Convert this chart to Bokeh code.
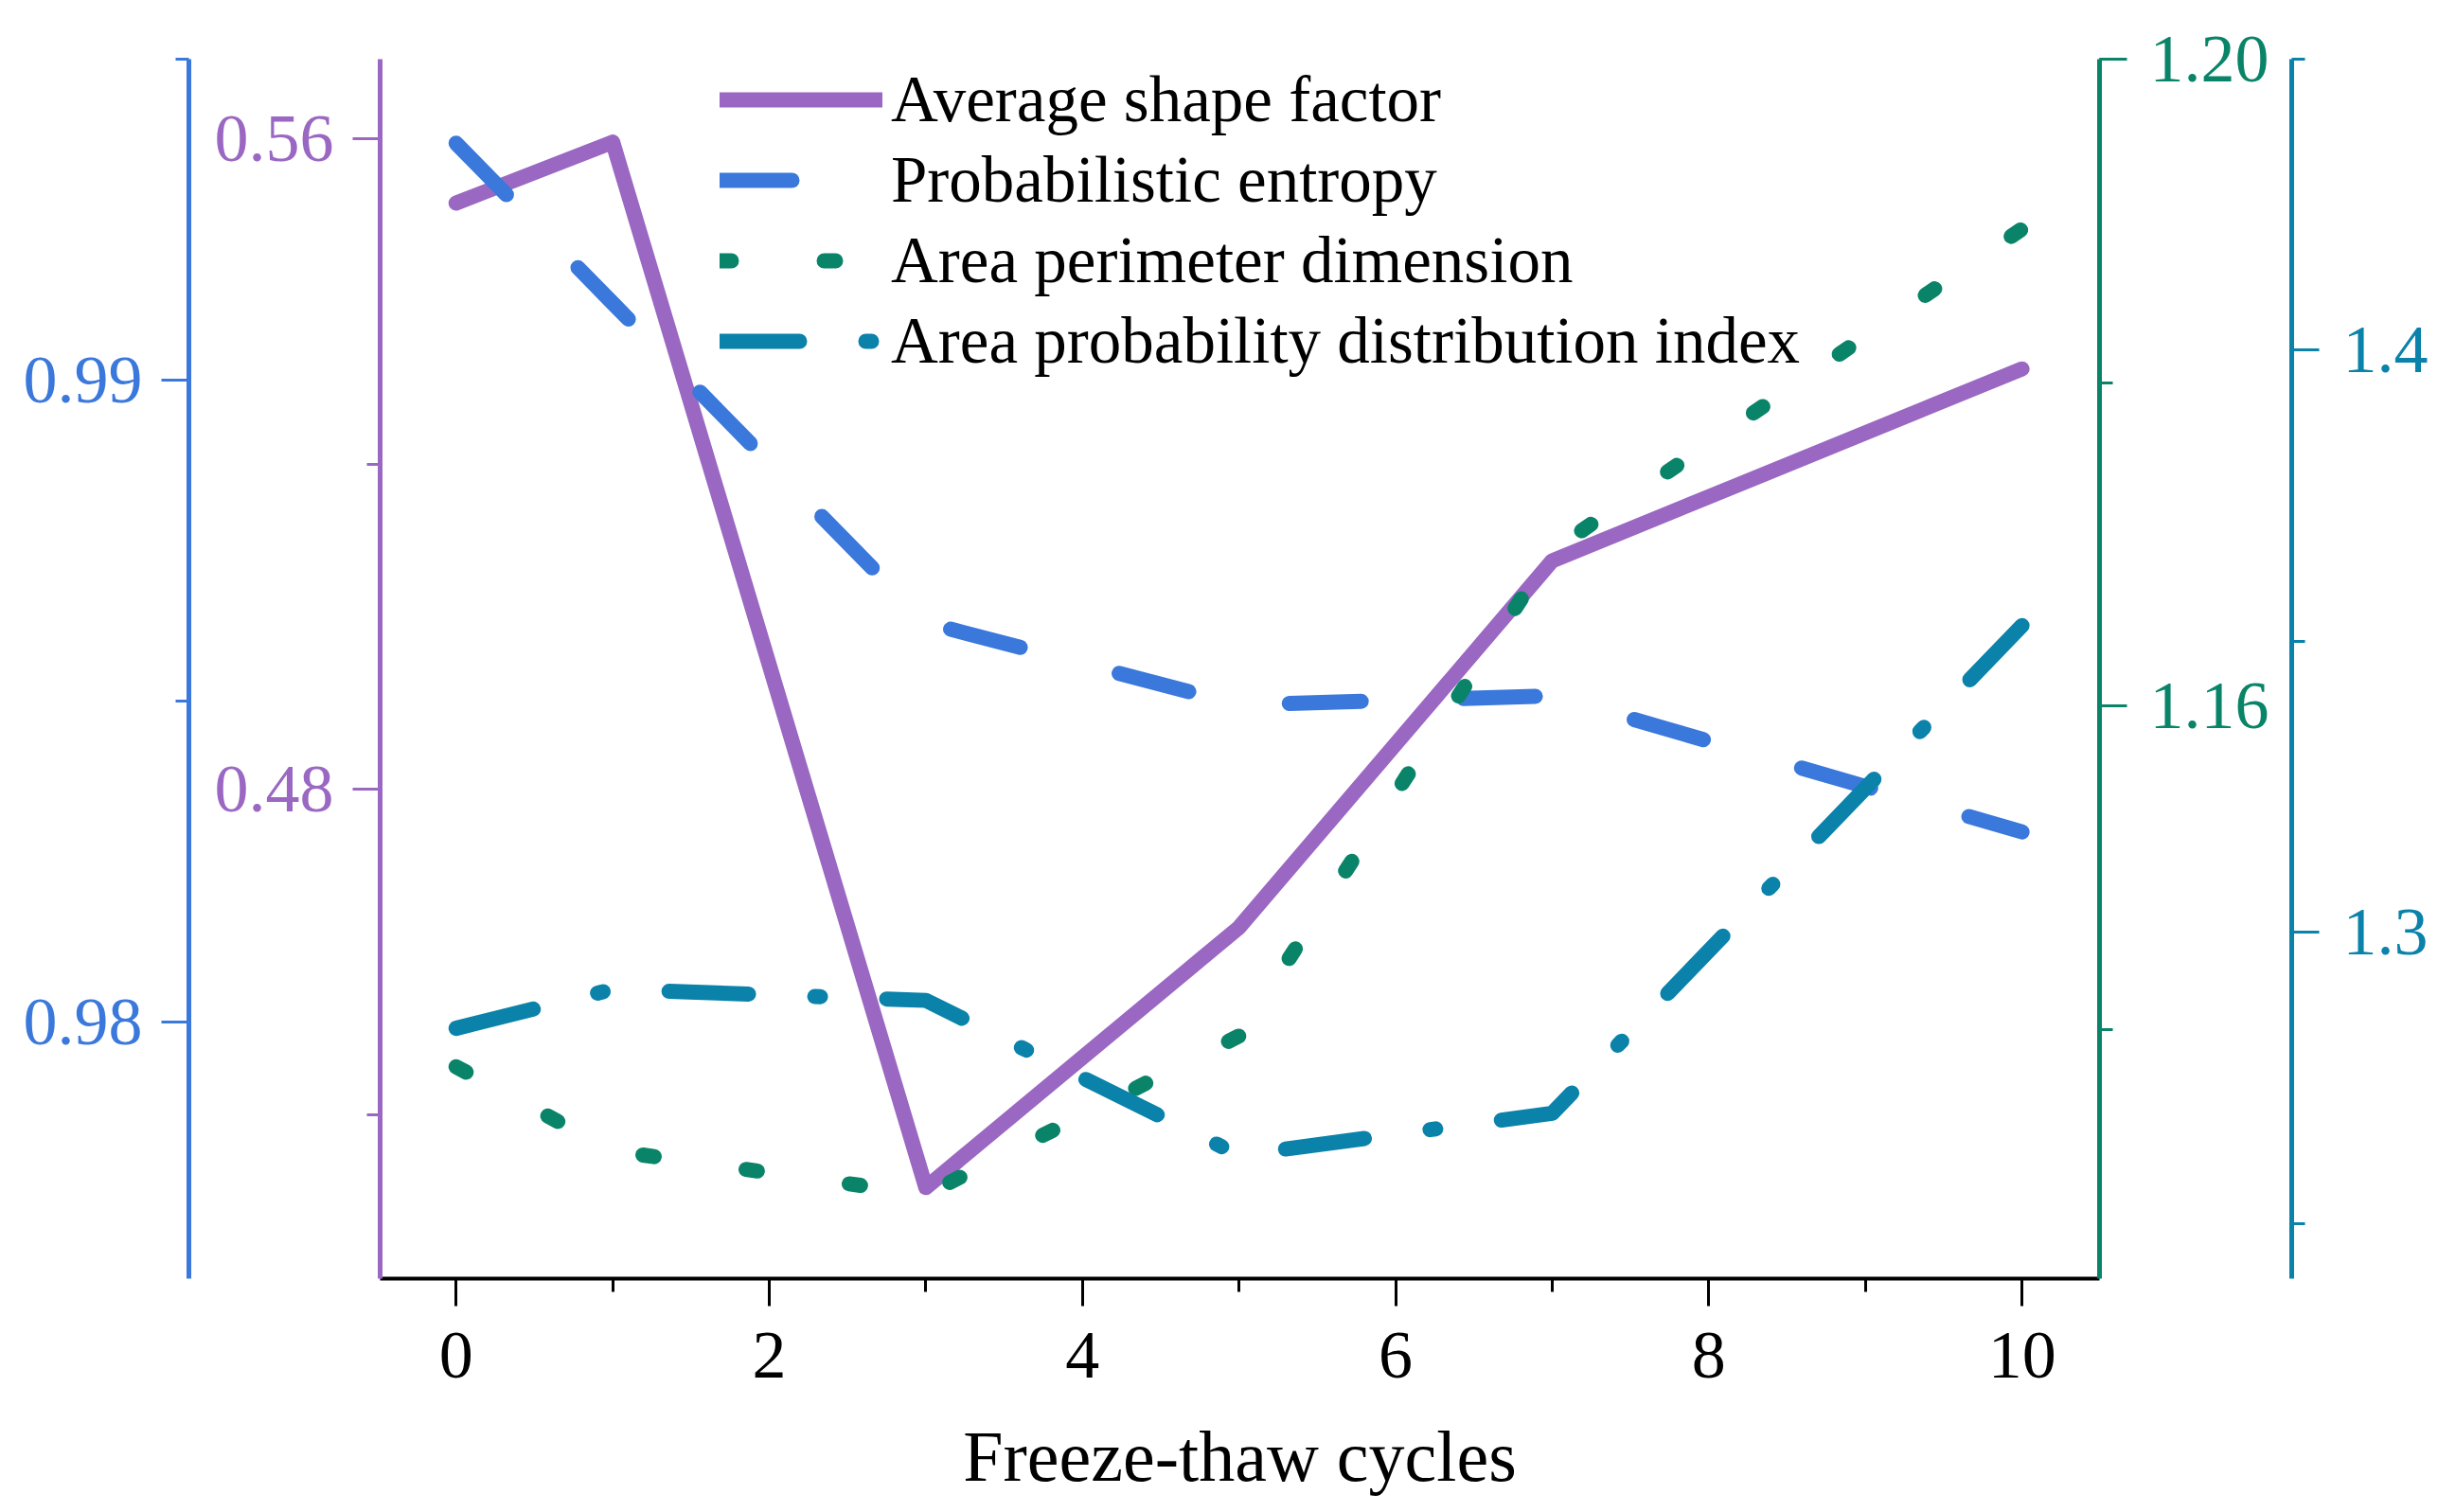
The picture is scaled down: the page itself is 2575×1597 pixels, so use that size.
from bokeh.plotting import figure
from bokeh.models import LinearAxis, Range1d, FixedTicker, PrintfTickFormatter, Legend, LegendItem
from bokeh.embed import file_html
from bokeh.resources import INLINE

# freeze-thaw cycles and the four pore indices
cycles = [0, 1, 3, 5, 7, 10]
shape_factor = [0.5521, 0.5596, 0.4310, 0.4630, 0.5081, 0.5317]
entropy = [0.99369, 0.99120, 0.98622, 0.98494, 0.98508, 0.98296]
perimeter_dim = [1.1377, 1.1325, 1.1298, 1.1396, 1.1696, 1.1895]
prob_index = [1.2835, 1.2902, 1.2883, 1.2617, 1.2689, 1.3527]

names = ["Average shape factor", "Probabilistic entropy",
         "Area perimeter dimension", "Area probability distribution index"]

x_ticks = [0, 2, 4, 6, 8, 10]
shape_ticks = [0.48, 0.56]
entropy_ticks = [0.98, 0.99]
perimeter_ticks = [1.16, 1.20]
index_ticks = [1.3, 1.4]

PURPLE = "#9a68c2"
BLUE = "#3a78dc"
GREEN = "#0a8468"
TEAL = "#0a82aa"
FONT = "Liberation Serif"

p = figure(width=2570, height=1590, output_backend="svg", toolbar_location=None,
           x_range=Range1d(-0.485, 10.495), y_range=Range1d(0.4198, 0.5698),
           min_border_left=401, min_border_right=353,
           min_border_top=62, min_border_bottom=240)
p.extra_y_ranges = {"blue": Range1d(0.976, 0.995),
                    "green": Range1d(1.1246, 1.20),
                    "teal": Range1d(1.2405, 1.45)}
p.xgrid.visible = False
p.ygrid.visible = False
p.outline_line_color = None


def style_axis(ax, color, ticks, minor, fmt, standoff):
    ax.ticker = FixedTicker(ticks=ticks, minor_ticks=minor)
    if fmt:
        ax.formatter = PrintfTickFormatter(format=fmt)
    ax.axis_line_color = color
    ax.axis_line_width = 5
    ax.major_tick_line_color = color
    ax.minor_tick_line_color = color
    ax.major_tick_line_width = 3
    ax.minor_tick_line_width = 3
    ax.major_tick_in = 0
    ax.major_tick_out = 29
    ax.minor_tick_in = 0
    ax.minor_tick_out = 14
    ax.major_label_text_color = color
    ax.major_label_text_font = FONT
    ax.major_label_text_font_size = "72px"
    ax.major_label_standoff = standoff


def spacer(gap):
    # blank axis that only pushes the outer axis further out
    return LinearAxis(ticker=FixedTicker(ticks=[0.5]), major_label_overrides={0.5: ""},
                      axis_line_color=None, major_tick_line_color=None,
                      minor_tick_line_color=None, major_tick_in=0, major_tick_out=gap,
                      minor_tick_in=0, minor_tick_out=0, major_label_standoff=0)


style_axis(p.yaxis[0], PURPLE, shape_ticks, [0.44, 0.48, 0.52, 0.56], "%.2f", 20)
p.add_layout(spacer(24), "left")
ax_blue = LinearAxis(y_range_name="blue")
style_axis(ax_blue, BLUE, entropy_ticks, [0.98, 0.985, 0.99, 0.995], "%.2f", 20)
p.add_layout(ax_blue, "left")

ax_green = LinearAxis(y_range_name="green")
style_axis(ax_green, GREEN, perimeter_ticks, [1.14, 1.16, 1.18, 1.20], "%.2f", 24)
p.add_layout(ax_green, "right")
p.add_layout(spacer(21), "right")
ax_teal = LinearAxis(y_range_name="teal")
style_axis(ax_teal, TEAL, index_ticks, [1.25, 1.3, 1.35, 1.4, 1.45], "%.1f", 25)
p.add_layout(ax_teal, "right")

style_axis(p.xaxis[0], "black", x_ticks, list(range(11)), None, 28)
p.xaxis[0].axis_line_width = 4
p.xaxis[0].axis_label = "Freeze-thaw cycles"
p.xaxis[0].axis_label_text_font = FONT
p.xaxis[0].axis_label_text_font_size = "76px"
p.xaxis[0].axis_label_text_font_style = "normal"
p.xaxis[0].axis_label_text_color = "black"
p.xaxis[0].axis_label_standoff = 38

common = dict(line_width=16, line_cap="round", line_join="round")
r1 = p.line(cycles, shape_factor, color=PURPLE, **common)
r2 = p.line(cycles, entropy, color=BLUE, y_range_name="blue", line_dash="76 108", **common)
r3 = p.line(cycles, perimeter_dim, color=GREEN, y_range_name="green", line_dash="12 98", **common)
r4 = p.line(cycles, prob_index, color=TEAL, y_range_name="teal", line_dash="84 70 6 70", **common)

legend = Legend(items=[LegendItem(label=n, renderers=[r]) for n, r in zip(names, [r1, r2, r3, r4])],
                location=(359, 950), padding=0, margin=0, spacing=5,
                glyph_width=172, glyph_height=80, label_height=80, label_standoff=9,
                label_text_font=FONT, label_text_font_size="69px", label_text_color="black",
                border_line_color=None, background_fill_alpha=0)
p.add_layout(legend)

open("out.html", "w").write(file_html(p, INLINE))
